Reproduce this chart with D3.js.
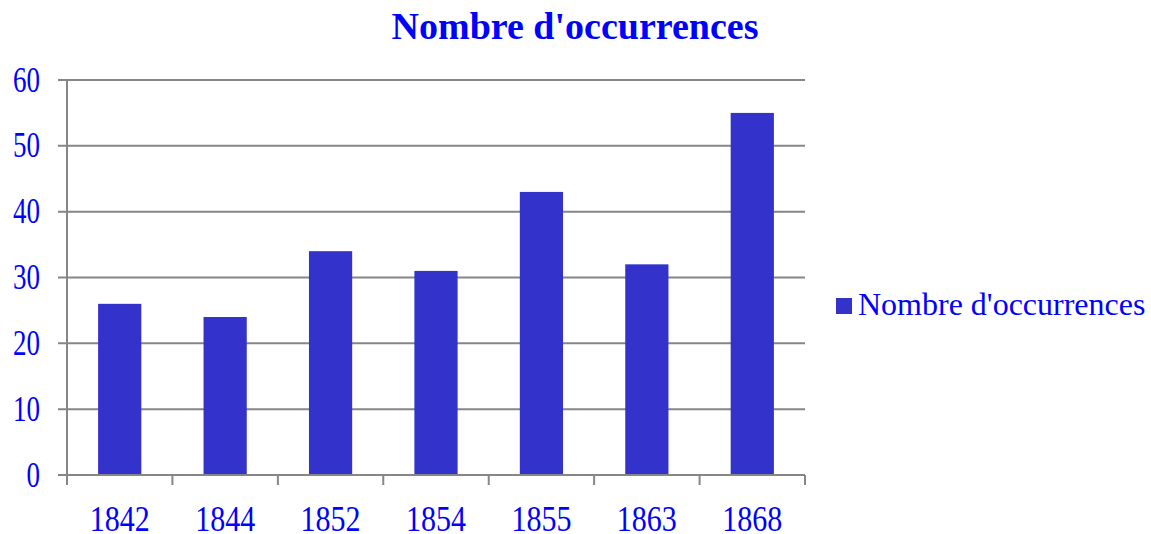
<!DOCTYPE html>
<html>
<head>
<meta charset="utf-8">
<script src="https://cdn.jsdelivr.net/npm/d3@7"></script>
<style>
  body { margin: 0; background: #fff; }
  text { font-family: "Liberation Serif", "Times New Roman", serif; fill: #0000ff; }
</style>
</head>
<body>
<svg id="chart" width="1151" height="534"></svg>
<script>
// data
var years = ['1842', '1844', '1852', '1854', '1855', '1863', '1868'];
var counts = [26, 24, 34, 31, 43, 32, 55];
var yTicks = [0, 10, 20, 30, 40, 50, 60];
var seriesName = "Nombre d'occurrences";

var svg = d3.select('#chart');
var plot = { left: 67, right: 805, top: 80, bottom: 475 };
var gridColor = '#868686';
var barColor = '#3333cc';

var x = d3.scaleBand()
  .domain(years)
  .range([plot.left, plot.right])
  .paddingInner(0.59)
  .paddingOuter(0.295);

var y = d3.scaleLinear()
  .domain([0, 60])
  .range([plot.bottom, plot.top]);

// title
svg.append('text')
  .attr('x', 575)
  .attr('y', 39)
  .attr('text-anchor', 'middle')
  .style('font-size', '38px')
  .style('font-weight', 'bold')
  .text(seriesName);

// horizontal grid lines (plus small ticks left of the axis)
svg.selectAll('line.grid')
  .data(yTicks)
  .enter().append('line')
  .attr('class', 'grid')
  .attr('x1', plot.left - 9)
  .attr('x2', plot.right)
  .attr('y1', function(d) { return y(d); })
  .attr('y2', function(d) { return y(d); })
  .attr('stroke', gridColor)
  .attr('stroke-width', 2);

// vertical axis line
svg.append('line')
  .attr('x1', plot.left).attr('x2', plot.left)
  .attr('y1', plot.top).attr('y2', plot.bottom + 10)
  .attr('stroke', gridColor)
  .attr('stroke-width', 2);

// category boundary ticks below the axis
var half = (x.step() - x.bandwidth()) / 2;
var edges = years.map(function(d) { return x(d) - half; }).concat([plot.right]);
svg.selectAll('line.xtick')
  .data(edges)
  .enter().append('line')
  .attr('class', 'xtick')
  .attr('x1', function(d) { return d; })
  .attr('x2', function(d) { return d; })
  .attr('y1', plot.bottom)
  .attr('y2', plot.bottom + 10)
  .attr('stroke', gridColor)
  .attr('stroke-width', 2);

// bars
svg.selectAll('rect.bar')
  .data(counts)
  .enter().append('rect')
  .attr('class', 'bar')
  .attr('x', function(d, i) { return x(years[i]); })
  .attr('width', x.bandwidth())
  .attr('y', function(d) { return y(d); })
  .attr('height', function(d) { return y(0) - y(d); })
  .attr('fill', barColor);

// redraw baseline over bar bottoms
svg.append('line')
  .attr('x1', plot.left).attr('x2', plot.right)
  .attr('y1', y(0)).attr('y2', y(0))
  .attr('stroke', gridColor)
  .attr('stroke-width', 2);

// y labels (the reference glyphs are stretched vertically)
svg.selectAll('text.ylab')
  .data(yTicks)
  .enter().append('text')
  .attr('class', 'ylab')
  .attr('transform', function(d) { return 'translate(40,' + y(d) + ') scale(1,1.3)'; })
  .attr('dy', '0.33em')
  .attr('text-anchor', 'end')
  .style('font-size', '27px')
  .text(function(d) { return d; });

// x labels
svg.selectAll('text.xlab')
  .data(years)
  .enter().append('text')
  .attr('class', 'xlab')
  .attr('transform', function(d) { return 'translate(' + (x(d) + x.bandwidth() / 2) + ',531) scale(1,1.2)'; })
  .attr('text-anchor', 'middle')
  .style('font-size', '30px')
  .text(function(d) { return d; });

// legend
svg.append('rect')
  .attr('x', 836).attr('y', 298)
  .attr('width', 16).attr('height', 16)
  .attr('fill', barColor);

svg.append('text')
  .attr('x', 858)
  .attr('y', 315)
  .style('font-size', '32px')
  .text(seriesName);
</script>
</body>
</html>
